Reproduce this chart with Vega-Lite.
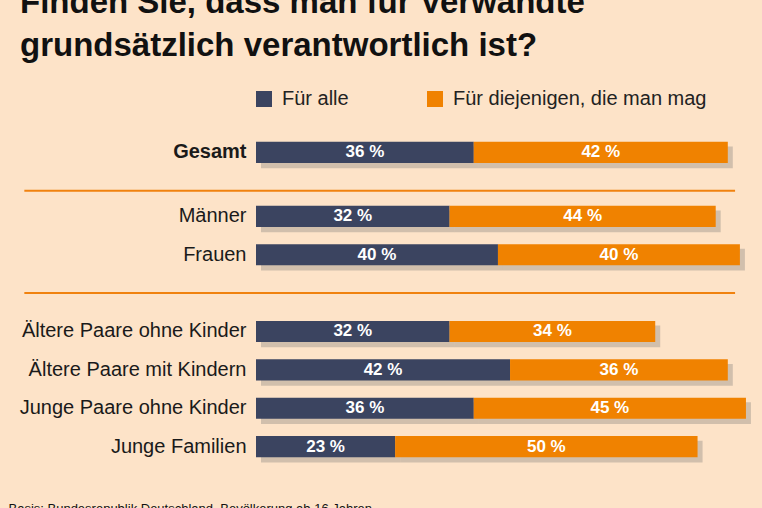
{
  "$schema": "https://vega.github.io/schema/vega-lite/v6.json",
  "autosize": {"type": "none"},
  "width": 496,
  "height": 307,
  "padding": {"left": 256, "top": 146, "right": 10, "bottom": 55},
  "background": "#fde3c8",
  "title": {
    "text": ["Finden Sie, dass man für Verwandte", "grundsätzlich verantwortlich ist?"],
    "fontSize": 33,
    "fontWeight": "bold",
    "color": "#111111",
    "anchor": "start",
    "frame": "group",
    "dx": -236,
    "lineHeight": 43,
    "baseline": "alphabetic",
    "offset": 0
  },
  "config": {
    "font": "Liberation Sans",
    "view": {"stroke": null},
    "axis": {"grid": false}
  },
  "datasets": {
    "survey": [
      {"group": "Gesamt", "series": "Für alle", "value": 36},
      {"group": "Gesamt", "series": "Für diejenigen, die man mag", "value": 42},
      {"group": "Männer", "series": "Für alle", "value": 32},
      {"group": "Männer", "series": "Für diejenigen, die man mag", "value": 44},
      {"group": "Frauen", "series": "Für alle", "value": 40},
      {"group": "Frauen", "series": "Für diejenigen, die man mag", "value": 40},
      {"group": "Ältere Paare ohne Kinder", "series": "Für alle", "value": 32},
      {"group": "Ältere Paare ohne Kinder", "series": "Für diejenigen, die man mag", "value": 34},
      {"group": "Ältere Paare mit Kindern", "series": "Für alle", "value": 42},
      {"group": "Ältere Paare mit Kindern", "series": "Für diejenigen, die man mag", "value": 36},
      {"group": "Junge Paare ohne Kinder", "series": "Für alle", "value": 36},
      {"group": "Junge Paare ohne Kinder", "series": "Für diejenigen, die man mag", "value": 45},
      {"group": "Junge Familien", "series": "Für alle", "value": 23},
      {"group": "Junge Familien", "series": "Für diejenigen, die man mag", "value": 50}
    ],
    "separators": [{"sep": "~3"}, {"sep": "~11"}]
  },
  "layer": [
    {
      "data": {"name": "separators"},
      "mark": {"type": "rule", "color": "#f0820f", "strokeWidth": 2},
      "encoding": {
        "y": {"field": "sep", "type": "nominal",
          "scale": {"domain": ["Gesamt","~1","~2","~3","~4","Männer","~6","~7","Frauen","~9","~10","~11","~12","~13","Ältere Paare ohne Kinder","~15","~16","Ältere Paare mit Kindern","~18","~19","Junge Paare ohne Kinder","~21","~22","Junge Familien"], "paddingInner": 0, "paddingOuter": 0}},
        "x": {"datum": -38.3, "type": "quantitative"},
        "x2": {"datum": 79.2}
      }
    },
    {
      "data": {"name": "survey"},
      "mark": {"type": "bar", "color": "#6e6e6e", "opacity": 0.3, "xOffset": 5, "x2Offset": 5, "yOffset": 5, "height": {"band": 1.7}},
      "encoding": {
        "y": {"field": "group", "type": "nominal"},
        "x": {"field": "value", "type": "quantitative", "stack": "zero"},
        "detail": {"field": "series"}
      }
    },
    {
      "data": {"name": "survey"},
      "mark": {"type": "bar", "height": {"band": 1.65}},
      "encoding": {
        "y": {"field": "group", "type": "nominal",
          "axis": {
            "title": null, "ticks": false, "domain": false, "labelPadding": 10,
            "labelFontSize": 20, "labelColor": "#1a1a1a", "labelLimit": 400,
            "labelExpr": "indexof(datum.value, '~') == 0 ? '' : datum.value",
            "labelFontWeight": {"condition": {"test": "datum.value == 'Gesamt'", "value": "bold"}, "value": "normal"}
          }},
        "x": {"field": "value", "type": "quantitative", "stack": "zero",
          "scale": {"domain": [0, 82], "nice": false},
          "axis": {
            "labels": false, "ticks": false, "domain": false, "grid": false,
            "title": "Basis: Bundesrepublik Deutschland, Bevölkerung ab 16 Jahren",
            "titleFontSize": 13, "titleFontWeight": "normal", "titleColor": "#111111",
            "titleAnchor": "start", "titleAlign": "left", "titleBaseline": "alphabetic",
            "titleX": -248, "titleY": 59
          }},
        "color": {"field": "series", "type": "nominal",
          "scale": {"domain": ["Für alle", "Für diejenigen, die man mag"], "range": ["#3b4460", "#f08200"]},
          "legend": {
            "title": null, "orient": "none", "legendX": -2, "legendY": -57,
            "direction": "horizontal", "symbolType": "square", "symbolSize": 256,
            "symbolStrokeWidth": 0, "labelFontSize": 20, "labelColor": "#222222",
            "labelOffset": 8, "columnPadding": 76, "labelLimit": 400
          }}
      }
    },
    {
      "data": {"name": "survey"},
      "transform": [
        {"stack": "value", "groupby": ["group"], "sort": [{"field": "series", "order": "ascending"}], "as": ["v0", "v1"]},
        {"calculate": "(datum.v0 + datum.v1) / 2", "as": "mid"},
        {"calculate": "datum.value + ' %'", "as": "label"}
      ],
      "mark": {"type": "text", "color": "white", "fontWeight": "bold", "fontSize": 17, "baseline": "middle", "align": "center"},
      "encoding": {
        "y": {"field": "group", "type": "nominal"},
        "x": {"field": "mid", "type": "quantitative"},
        "text": {"field": "label"}
      }
    }
  ]
}
